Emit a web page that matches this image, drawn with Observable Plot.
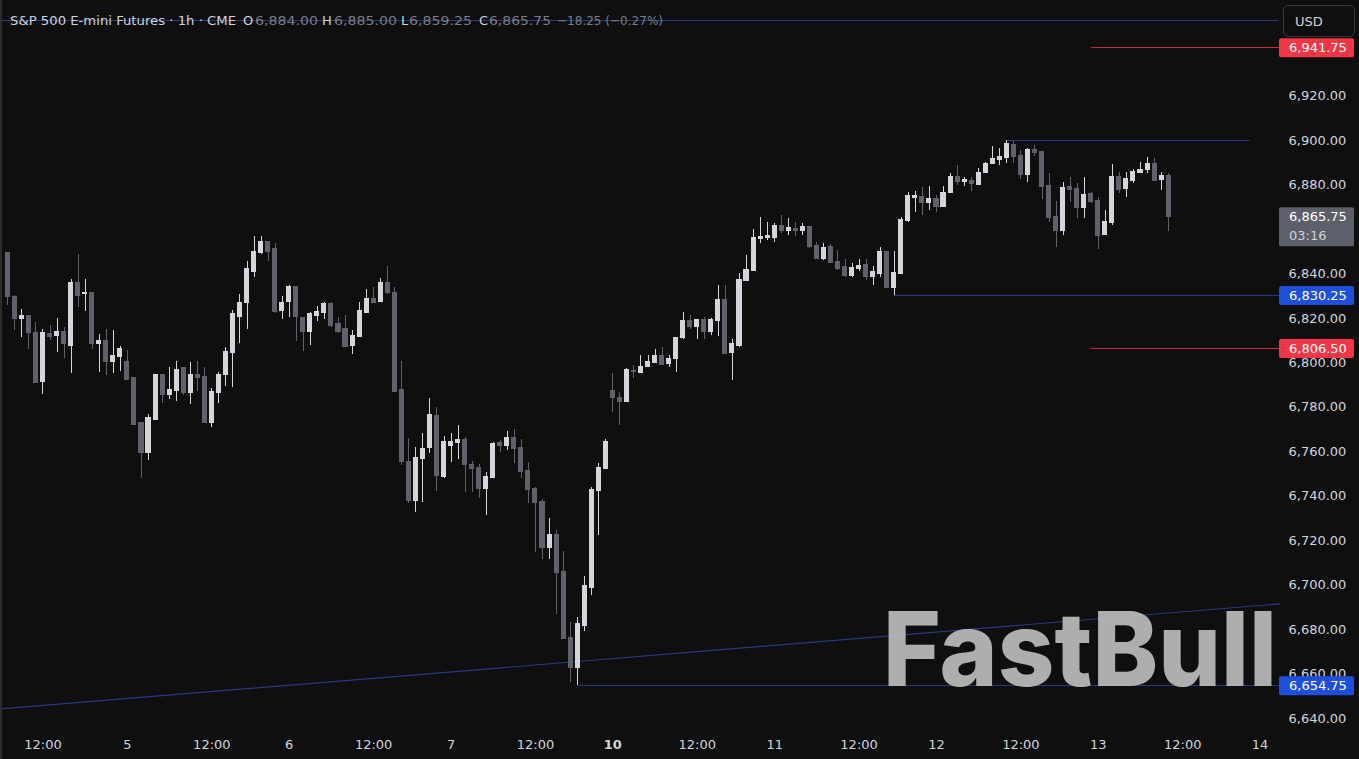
<!DOCTYPE html>
<html><head><meta charset="utf-8">
<script src="https://cdn.jsdelivr.net/npm/d3@7"></script>
<script src="https://cdn.jsdelivr.net/npm/@observablehq/plot@0.6"></script>
<style>
html,body{margin:0;padding:0;background:#0f0f0f;overflow:hidden}
#chart{width:1359px;height:759px;position:relative}
</style></head><body><div id="chart"></div>
<script>
// ---- Data (1h bars, S&P 500 E-mini Futures, CME) ----
const opens = [6849.25,6829.5,6819.5,6821.25,6813.5,6791.5,6812.75,6812.25,6814,6807.75,
6836,6830.75,6831.5,6808.25,6810,6800.5,6802.5,6800.5,6793,6772.75,
6759.25,6774.5,6794.75,6785.75,6787.5,6797.5,6786.25,6794.75,6793.5,6772.75,
6786.25,6794.75,6804.25,6820.5,6826.75,6841,6849.5,6854.5,6851,6823.5,
6827.5,6834.25,6820,6814,6821.25,6822.25,6826.25,6817.25,6815,6807.75,
6811.5,6822.5,6828.5,6827.5,6835.75,6831.5,6788,6755.25,6738,6756.75,
6761.5,6776.25,6748.5,6762.5,6764,6765.5,6754.25,6752.5,6743.25,6748,
6764,6762.75,6766,6761.75,6751.25,6743.25,6737.25,6716.75,6722.5,6705.75,
6676.25,6662.5,6681.75,6698.75,6742.5,6752.25,6787.25,6784.25,6782.25,6796.5,
6795.5,6798,6800,6803.25,6799.25,6801.5,6811.25,6818.75,6816,6819.25,
6813.75,6818.75,6828.25,6804.25,6807.5,6836.75,6841.25,6855.75,6856.25,6856.25,
6861.75,6859.5,6860.25,6859.25,6861.25,6852.5,6846.75,6852,6845.5,6843,
6839,6842,6844,6838.5,6840,6850,6833.75,6839.75,6863.75,6874.25,
6874.5,6872,6873.75,6870.25,6876.5,6883.5,6881.5,6881.75,6880,6885.25,
6889.25,6891.25,6892.25,6898,6893.25,6884.5,6895.75,6895,6879.75,6865.75,
6859.5,6879,6878,6869.75,6876,6873,6857.5,6862.75,6883.5,6878.25,
6882,6885.25,6886.75,6889.5,6882.25,6884];
const highs = [6849.5,6830.25,6824,6821.5,6818,6815,6816.75,6820,6816,6837.5,
6848.75,6837.5,6831.5,6812.75,6815,6814.5,6807.25,6805.5,6793,6772.75,
6776.75,6794.75,6794.75,6798,6800.5,6798,6800,6800.5,6798,6788.5,
6795.5,6807,6823.5,6830.75,6845.5,6856.75,6856.75,6854.5,6853.75,6829.75,
6834.75,6834.25,6820,6822.5,6825.25,6827,6827,6820.5,6821.25,6814.5,
6827,6833,6834,6838,6843.25,6834,6800.5,6766,6762,6768.25,
6784,6780,6767,6768.25,6771.75,6766.5,6755.75,6754.25,6750.75,6764.25,
6765,6769,6770,6765.5,6755.25,6743.75,6738.5,6729.75,6724.5,6715.25,
6683.25,6685.5,6704,6743.75,6754.75,6765.5,6795,6786.75,6797.25,6798.75,
6803.5,6803.25,6806,6807,6803.25,6811.5,6822.75,6821.25,6819.25,6820.5,
6819.75,6835,6834.75,6810.5,6840.25,6848.5,6860,6865.25,6863.25,6862.5,
6866.5,6864.75,6863.25,6862.5,6861.25,6854.25,6853.75,6853.25,6850.5,6846.5,
6844.75,6846.5,6846.5,6843.25,6852,6850,6850.25,6865.25,6876.5,6877.25,
6879,6879.25,6875.5,6879.25,6885,6888.75,6883.5,6883.5,6887.5,6890.25,
6897.5,6896.5,6900,6899.5,6895.5,6896.25,6897.75,6895,6885,6872.5,
6881,6883.5,6880.5,6883.5,6876.75,6874.5,6868.5,6889,6885.75,6885.75,
6886.75,6890,6892.25,6891.75,6885.75,6885];
const lows = [6825.75,6814.5,6811.5,6806,6790.75,6785.75,6810,6804.5,6802,6795.25,
6825,6823,6806,6795.5,6794.25,6795.25,6796,6792,6772.25,6748,
6756,6774,6781.75,6783.5,6782.5,6785.25,6781.25,6787,6772.75,6771,
6781.75,6789.25,6789,6808.75,6815,6838.5,6848.75,6845.5,6822.25,6819.5,
6820.5,6809.5,6805,6807.75,6818.5,6819.5,6816,6813.25,6807,6803.75,
6811.5,6822.25,6826.75,6827,6830.75,6787,6753.75,6736.75,6732.75,6737.25,
6759.25,6742,6748,6755.25,6756.5,6741.75,6741.75,6738.75,6731.5,6747.75,
6759.5,6760.5,6754.75,6747.75,6736.5,6714.75,6711.75,6711.75,6686.75,6675.75,
6656.25,6654.75,6679.25,6695.25,6722.5,6752,6777.5,6771.75,6782,6792.75,
6795.25,6797.75,6799.75,6798.75,6798,6795.75,6810.5,6815,6810.5,6810.5,
6812.5,6811.75,6804,6792,6807,6836.5,6841.25,6853.5,6855.25,6854,
6858,6857.25,6856.75,6857.25,6851.5,6846.5,6846.25,6844.5,6841.75,6838.5,
6838.5,6841,6837.25,6835,6838.5,6833.5,6830.25,6839.75,6863.25,6867.75,
6866.25,6868.5,6867.5,6870,6876,6879.75,6879.5,6877,6879.75,6885,
6889,6888.75,6889.5,6889.5,6882.25,6881.25,6893,6873.5,6863.25,6851.75,
6857.5,6872.25,6864.75,6864.75,6871.5,6851,6857.25,6861.75,6876,6874.25,
6880.5,6885,6885,6881.75,6877.75,6859.25];
const closes = [6829.5,6819.5,6821.25,6813.5,6791,6813.25,6811.5,6814,6808.25,6836,
6830.25,6831.25,6808.25,6810,6800.5,6803.25,6806,6792.5,6772.25,6759.25,
6775,6794.75,6785.75,6788,6797,6786.25,6794.75,6793,6772.75,6786.75,
6794.75,6805,6821.75,6826.75,6842,6850,6854.5,6850,6823,6826.75,
6834.25,6820.5,6814,6821.75,6823,6826.25,6816.75,6814,6807.25,6812.25,
6823.5,6828.5,6826.75,6836,6831.25,6787,6755.25,6738,6757,6761.25,
6776.75,6749,6764.25,6764.25,6765.5,6754.25,6752.25,6743.25,6748.5,6763.5,
6762.75,6766,6761.25,6751,6743,6737,6716.75,6722.5,6705.5,6675.75,
6662.5,6682.5,6699.5,6743,6752.75,6764.5,6784.25,6782.5,6796.75,6796,
6798.25,6800.25,6803.25,6799,6801.5,6811.25,6818.75,6816,6819.25,6814,
6819.25,6828.25,6804,6808.5,6837.25,6841.75,6856.25,6856.75,6857.25,6861.75,
6859.5,6860.75,6859.25,6861.25,6852,6846.75,6851.75,6845,6842.25,6839,
6842.5,6843.75,6838.5,6841,6850,6833.75,6840.25,6864.25,6875.25,6875,
6872,6873.75,6870.25,6876.5,6883.75,6881.5,6882.25,6880.25,6885.5,6889.5,
6891.75,6892.5,6898.25,6892.75,6884.5,6895.75,6894.5,6879.25,6865,6859.5,
6878.75,6877.75,6869.75,6875.5,6872.25,6857.25,6863.5,6883.5,6877.75,6882.5,
6885.75,6886.75,6889.5,6882,6884,6865.75];

// time-axis ticks (bar index) and their labels
const xTickIdx = [5,17,29,40,52,63,75,86,98,109,121,132,144,155,167,178];
const xTickLabels = ["12:00","5","12:00","6","12:00","7","12:00","10","12:00","11","12:00","12","12:00","13","12:00","14"];
const yTicks = [6640,6660,6680,6700,6720,6740,6760,6780,6800,6820,6840,6880,6900,6920];

// drawn levels: price, start bar, end bar
const blueLevels = [
  {p: 6954, from: -2, to: 180.6},
  {p: 6900, from: 142, to: 176.6},
  {p: 6830.25, from: 126, to: 182},
  {p: 6654.75, from: 81, to: 182}
];
const redLevels = [
  {p: 6941.75, from: 154, to: 182},
  {p: 6806.5, from: 154, to: 182}
];
const trendline = [{i: -1.04, p: 6644.3}, {i: 180.9, p: 6691.6}];

// price-scale labels
const priceTags = [
  {p: 6941.75, kind: "red"},
  {p: 6830.25, kind: "blue"},
  {p: 6806.5, kind: "red"},
  {p: 6654.75, kind: "blue"}
];
const lastCountdown = "03:16";
const symbolTitle = "S&P 500 E-mini Futures · 1h · CME";
const currency = "USD";
const watermark = "FastBull";

// ---- Styles ----
const BG = "#0f0f0f", UP = "#d4d6dc", DOWN = "#5f626c";
const BLUE_LINE = "#1f3c86", RED_LINE = "#c0303a";
const BLUE_TAG = "#1d4fdc", RED_TAG = "#f23645", GRAY_TAG = "#5d606b";
const TXT = "#d1d4dc";
const FONT = "DejaVu Sans";

const candles = opens.map((o, i) => ({i, open: o, high: highs[i], low: lows[i], close: closes[i], up: closes[i] >= o}));
const fmt = d3.format(",.2f");
const bodyHalf = 0.36;

function candleMarks(isUp, color) {
  return [
    Plot.ruleX(candles, {filter: d => d.up === isUp, x: "i", y1: "low", y2: "high", stroke: color, strokeWidth: 1, shapeRendering: "crispEdges"}),
    Plot.rect(candles, {filter: d => d.up === isUp, x1: d => d.i - bodyHalf, x2: d => d.i + bodyHalf,
      y1: d => Math.min(d.open, d.close), y2: d => Math.max(d.open, d.close),
      fill: color, insetTop: -0.5, insetBottom: -0.5, shapeRendering: "crispEdges"})
  ];
}

const chart = Plot.plot({
  width: 1359, height: 759,
  marginLeft: 0, marginRight: 79, marginTop: 0, marginBottom: 26,
  style: {background: BG, color: TXT, fontFamily: FONT, fontSize: "13px", overflow: "visible"},
  x: {domain: [-1.04, 180.9], axis: null},
  y: {domain: [6633.25, 6963], axis: null},
  marks: [
    Plot.line(trendline, {x: "i", y: "p", stroke: BLUE_LINE, strokeWidth: 1.2, clip: true}),
    Plot.link(blueLevels, {x1: "from", x2: "to", y1: "p", y2: "p", stroke: BLUE_LINE, strokeWidth: 1, clip: true, shapeRendering: "crispEdges"}),
    Plot.link(redLevels, {x1: "from", x2: "to", y1: "p", y2: "p", stroke: RED_LINE, strokeWidth: 1, clip: true, shapeRendering: "crispEdges"}),
    ...candleMarks(true, UP),
    ...candleMarks(false, DOWN),
    Plot.axisY({anchor: "right", ticks: yTicks, tickFormat: fmt, tickSize: 0, tickPadding: 8, fill: TXT, fontSize: 13}),
    Plot.axisX({ticks: xTickIdx, tickFormat: (d) => xTickLabels[xTickIdx.indexOf(d)], tickSize: 0, tickPadding: 6, fill: TXT, fontSize: 13})
  ]
});

document.getElementById("chart").appendChild(chart);

// ---- overlays positioned with Plot's own scales ----
const svg = d3.select(chart);
const ys = chart.scale("y");
const plotRight = 1280;

// bold the new-week day label
svg.selectAll("text").filter(function(){ return this.textContent === "10"; }).attr("font-weight", "bold");

// left border
svg.append("rect").attr("x", 0).attr("y", 0).attr("width", 2).attr("height", 759).attr("fill", "#2b2b2b");

// watermark
svg.append("text").text(watermark)
  .attr("text-anchor", "start")
  .attr("x", 883).attr("y", ys.apply(6654.75) + 1)
  .attr("font-family", "Inter, 'Open Sans', sans-serif").attr("font-weight", 800).attr("font-size", 103)
  .attr("textLength", 394).attr("lengthAdjust", "spacingAndGlyphs")
  .attr("fill", "#c0c0c0").attr("fill-opacity", 0.9);

// price tags
const tagG = svg.append("g").attr("font-family", FONT).attr("font-size", 13).attr("text-anchor", "start");
for (const t of priceTags) {
  const y = ys.apply(t.p);
  tagG.append("rect").attr("x", plotRight - 1).attr("y", y - 9).attr("width", 75).attr("height", 19).attr("rx", 2)
    .attr("fill", t.kind === "red" ? RED_TAG : BLUE_TAG);
  tagG.append("text").text(fmt(t.p)).attr("x", plotRight + 9).attr("y", y + 5).attr("fill", "#ffffff");
}
// last price tag
const last = candles[candles.length - 1];
{
  const y = ys.apply(last.close);
  tagG.append("rect").attr("x", plotRight - 1).attr("y", y - 9).attr("width", 75).attr("height", 39).attr("rx", 2).attr("fill", GRAY_TAG);
  tagG.append("text").text(fmt(last.close)).attr("x", plotRight + 9).attr("y", y + 5).attr("fill", "#ffffff");
  tagG.append("text").text(lastCountdown).attr("x", plotRight + 9).attr("y", y + 24).attr("fill", "#d0d2d8");
}

// currency button
svg.append("rect").attr("x", 1283.5).attr("y", 5.5).attr("width", 71).attr("height", 31).attr("rx", 5)
  .attr("fill", BG).attr("stroke", "#3a3a3a");
svg.append("text").text(currency).attr("text-anchor", "start").attr("x", 1295).attr("y", 26).attr("fill", TXT).attr("font-family", FONT).attr("font-size", 13);

// legend / title
const prevClose = candles[candles.length - 2].close;
const chg = last.close - prevClose;
const signed = v => (v < 0 ? "\u2212" : "+") + d3.format(",.2f")(Math.abs(v));
const pct = (v) => (v < 0 ? "\u2212" : "+") + d3.format(".2f")(Math.abs(v)) + "%";
const VAL = "#7a7d88";
const parts = [
  {t: symbolTitle, x: 10, w: 226, c: TXT},
  {t: "O", x: 243, c: TXT}, {t: fmt(last.open), x: 255, w: 63, c: VAL},
  {t: "H", x: 322, c: TXT}, {t: fmt(last.high), x: 334, w: 63, c: VAL},
  {t: "L", x: 401, c: TXT}, {t: fmt(last.low), x: 409, w: 63, c: VAL},
  {t: "C", x: 479, c: TXT}, {t: fmt(last.close), x: 489, w: 62, c: VAL},
  {t: `${signed(chg)} (${pct(chg / prevClose * 100)})`, x: 557, w: 106, c: VAL}
];
const tg = svg.append("g").attr("font-family", FONT).attr("font-size", 13).attr("text-anchor", "start");
for (const p of parts) {
  const el = tg.append("text").text(p.t).attr("x", p.x).attr("y", 25).attr("fill", p.c);
  if (p.w) el.attr("textLength", p.w).attr("lengthAdjust", "spacingAndGlyphs");
}
</script></body></html>
